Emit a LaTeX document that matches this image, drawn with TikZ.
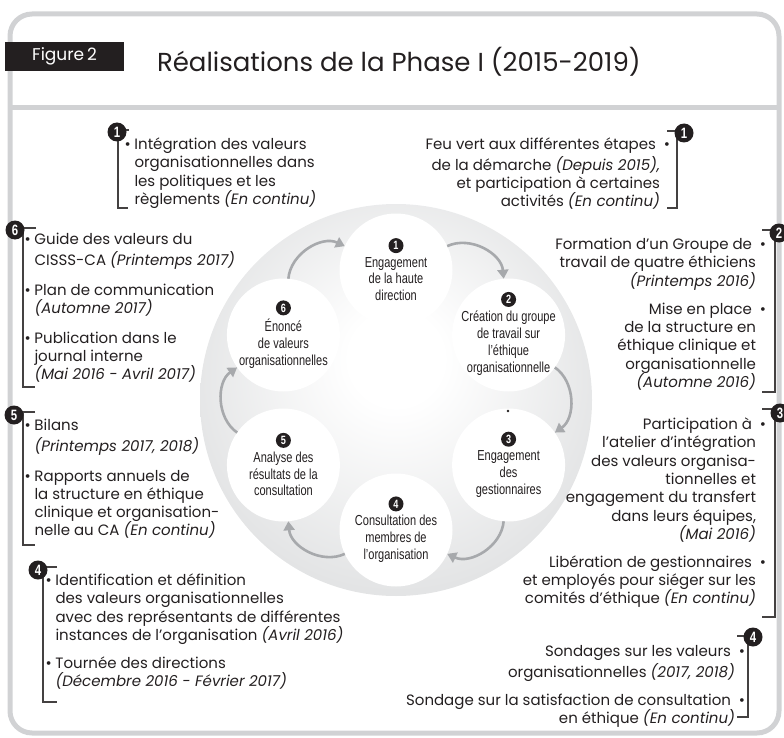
\documentclass[tikz,border=0pt]{standalone}
\usepackage{fontspec}
\setmainfont{Poppins}
\newfontfamily\condfont[FakeStretch=0.76]{Liberation Sans}
\usetikzlibrary{calc,positioning,arrows.meta}

\definecolor{ink}{HTML}{231F20}
\definecolor{framegray}{HTML}{D1D2D4}
\definecolor{arrowgray}{HTML}{A7A9AC}
\definecolor{diskgray}{HTML}{BABBBD}
\definecolor{diskmid}{HTML}{E2E3E4}

\pgfdeclareradialshading{disk}{\pgfpoint{0bp}{6bp}}{color(0bp)=(white); color(6bp)=(white); color(28bp)=(diskmid); color(50bp)=(diskgray)}

\newcommand\bulL{\makebox[10pt][l]{•}}
\newcommand\bulR{\makebox[10pt][r]{•}}
\newcommand\pad{\makebox[10pt]{}}
\newcommand\quand[1]{\textit{#1}}

\begin{document}
\begin{tikzpicture}[x=1pt,y=-1pt,every node/.style={inner sep=0pt,outer sep=0pt,text=ink}]
\tikzstyle{stage}=[circle,fill=white,minimum size=113pt]
\tikzstyle{stagetext}=[align=center,font=\condfont\fontsize{14.5}{16.8}\selectfont]
\tikzstyle{stagenum}=[circle,fill=ink,text=white,minimum size=15pt,font=\condfont\bfseries\fontsize{12}{12}\selectfont]
\tikzstyle{cycle}=[draw=arrowgray,line width=2.6pt,-{Triangle[length=9pt,width=11pt]}]
\tikzstyle{badge}=[circle,fill=ink,text=white,minimum size=19pt,font=\condfont\bfseries\fontsize{15}{15}\selectfont]
\tikzstyle{bracket}=[draw=ink!85,line width=1.4pt]
\tikzstyle{notes}=[font=\fontsize{15}{18.3}\selectfont]

\useasboundingbox (0,0) rectangle (784,738);

% frame and heading
\draw [framegray,line width=5pt,rounded corners=22pt] (10,14) rectangle (779,733);
\draw [framegray,line width=5pt] (10,108) -- (779,108);
\node (fig) [fill=ink,text=white,minimum width=119pt,minimum height=29pt,font=\fontsize{17}{17}\selectfont] at (64.5,56.5) {Figure\,2};
\node (title) [anchor=base west,font=\fontsize{26}{26}\selectfont] at (157,72) {Réalisations de la Phase I (2015-2019)};

% cycle
\coordinate (c) at (396,400);
\shade [shading=disk] (c) circle (196);
\foreach \i/\a in {1/-90,2/-30,3/30,4/90,5/150,6/210}
  \node (s\i) [stage] at ($(c)+(\a:130)$) {};

\node (t1) [stagetext] at ([yshift=-9pt]s1.center) {Engagement\\de la haute\\direction};
\node (t2) [stagetext] at ([yshift=-8pt]s2.center) {Création du groupe\\de travail sur\\l’éthique\\organisationnelle};
\node (t3) [stagetext] at ([yshift=-9pt]s3.center) {Engagement\\des\\gestionnaires};
\node (t4) [stagetext] at ([yshift=-9pt]s4.center) {Consultation des\\membres de\\l’organisation};
\node (t5) [stagetext] at ([yshift=-9pt]s5.center) {Analyse des\\résultats de la\\consultation};
\node (t6) [stagetext] at ([yshift=-9pt]s6.center) {Énoncé\\de valeurs\\organisationnelles};
\foreach \i in {1,...,6}
  \node (n\i) [stagenum,above=4pt of t\i] {\i};

\foreach \i/\j in {1/2,2/3,3/4,4/5,5/6,6/1}
  \draw [cycle] (s\i) to [bend left=55] (s\j);
\fill [ink] (508,411) circle (1.4);

% left notes
\node (a1) [notes,anchor=north west,align=left] at (124.5,136.7)
  {\strut\bulL Intégration des valeurs\\ \pad organisationnelles dans\\ \pad les politiques et les\\ \pad règlements \quand{(En continu)}};
\node (a6) [notes,anchor=north west,align=left] at (24.5,231.7)
  {\strut\bulL Guide des valeurs du\\ \pad CISSS-CA \quand{(Printemps 2017)}\\[11.7pt]
   \bulL Plan de communication\\ \pad \quand{(Automne 2017)}\\[11.7pt]
   \bulL Publication dans le\\ \pad journal interne\\ \pad \quand{(Mai 2016 - Avril 2017)}};
\node (a5) [notes,anchor=north west,align=left] at (24.5,417.7)
  {\strut\bulL Bilans\\ \pad \quand{(Printemps 2017, 2018)}\\[11.7pt]
   \bulL Rapports annuels de\\ \pad la structure en éthique\\ \pad clinique et organisation-\\ \pad nelle au CA \quand{(En continu)}};
\node (a4) [notes,anchor=north west,align=left] at (45.5,572.7)
  {\strut\bulL Identification et définition\\ \pad des valeurs organisationnelles\\ \pad avec des représentants de différentes\\ \pad instances de l’organisation \quand{(Avril 2016)}\\[9.7pt]
   \bulL Tournée des directions\\ \pad \quand{(Décembre 2016 - Février 2017)}};

% right notes
\node (r1) [notes,anchor=north east,align=right] at (670,136.7)
  {\strut Feu vert aux différentes étapes \bulR\\ de la démarche \quand{(Depuis 2015),}\pad\\ et participation à certaines\pad\\ activités \quand{(En continu)}\pad};
\node (r2) [notes,anchor=north east,align=right] at (766,236.7)
  {\strut Formation d’un Groupe de \bulR\\ travail de quatre éthiciens\pad\\ \quand{(Printemps 2016)}\pad\\[9.7pt]
   Mise en place \bulR\\ de la structure en\pad\\ éthique clinique et\pad\\ organisationnelle\pad\\ \quand{(Automne 2016)}\pad};
\node (r3) [notes,anchor=north east,align=right] at (766,416.7)
  {\strut Participation à \bulR\\ l’atelier d’intégration\pad\\ des valeurs organisa-\pad\\ tionnelles et\pad\\ engagement du transfert\pad\\ dans leurs équipes,\pad\\ \quand{(Mai 2016)}\pad\\[9.7pt]
   Libération de gestionnaires \bulR\\ et employés pour siéger sur les\pad\\ comités d’éthique \quand{(En continu)}\pad};
\node (r4) [notes,anchor=north east,align=right] at (745,643.7)
  {\strut Sondages sur les valeurs \bulR\\ organisationnelles \quand{(2017, 2018)}\pad\\[9.7pt]
   Sondage sur la satisfaction de consultation \bulR\\ en éthique \quand{(En continu)}\pad};

% brackets, then badges on top
\coordinate (pa1) at (117,132);
\coordinate (pa6) at (15,230);
\coordinate (pa5) at (14,415);
\coordinate (pa4) at (38,570);
\coordinate (pr1) at (684,133);
\coordinate (pr2) at (779,233);
\coordinate (pr3) at (780,413);
\coordinate (pr4) at (753,637);

\draw [bracket] ([xshift=12pt,yshift=2pt]pa1) -- ([xshift=1pt,yshift=2pt]pa1) -- ++(0,78) -- ++(10,0);
\draw [bracket] ([xshift=21pt,yshift=2pt]pa6) -- ([xshift=8pt,yshift=2pt]pa6) -- ++(0,159) -- ++(12,0);
\draw [bracket] ([xshift=21pt,yshift=3pt]pa5) -- ([xshift=9pt,yshift=3pt]pa5) -- ++(0,133) -- ++(12,0);
\draw [bracket] ([xshift=19pt,yshift=3pt]pa4) -- ([xshift=5pt,yshift=3pt]pa4) -- ++(0,135) -- ++(14,0);
\draw [bracket] ([xshift=-17pt,yshift=2pt]pr1) -- ([xshift=-7pt,yshift=2pt]pr1) -- ++(0,77) -- ++(-10,0);
\draw [bracket] ([xshift=-17pt,yshift=3pt]pr2) -- ([xshift=-4pt,yshift=3pt]pr2) -- ++(0,162) -- ++(-13,0);
\draw [bracket] ([xshift=-18pt,yshift=4pt]pr3) -- ([xshift=-5pt,yshift=4pt]pr3) -- ++(0,208) -- ++(-13,0);
\draw [bracket] ([xshift=-16pt,yshift=1pt]pr4) -- ([xshift=-5pt,yshift=1pt]pr4) -- ++(0,81) -- ++(-11,0);

\node (b1) [badge] at (pa1) {1};
\node (b6) [badge] at (pa6) {6};
\node (b5) [badge] at (pa5) {5};
\node (b4) [badge] at (pa4) {4};
\node (c1) [badge] at (pr1) {1};
\node (c2) [badge] at (pr2) {2};
\node (c3) [badge] at (pr3) {3};
\node (c4) [badge] at (pr4) {4};
\end{tikzpicture}
\end{document}
